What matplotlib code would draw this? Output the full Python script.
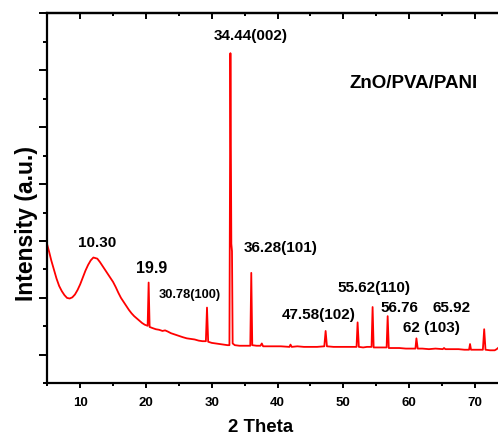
import matplotlib
matplotlib.use("Agg")
import matplotlib.pyplot as plt
from matplotlib.ticker import MultipleLocator, NullFormatter

plt.rcParams['font.family'] = ['Liberation Sans', 'DejaVu Sans']
plt.rcParams['font.weight'] = 'bold'

# XRD pattern (2 theta in degrees, intensity in a.u.)
two_theta = [
    5.0, 5.3, 5.6, 6.0, 6.4, 6.8, 7.2, 7.6, 8.0, 8.4, 8.8, 9.2, 9.6, 10.0,
    10.4, 10.8, 11.2, 11.6, 12.0, 12.3, 12.6, 13.0, 13.4, 13.8, 14.2, 14.6,
    15.0, 15.4, 15.8, 16.2, 16.6, 17.0, 17.4, 17.8, 18.2, 18.6, 19.0, 19.4,
    19.8, 20.25, 20.4, 20.55, 21.0, 21.5, 22.0, 22.5, 22.9, 23.3, 23.8, 24.3,
    25.0, 25.6, 26.2, 26.8, 27.4, 28.0, 28.6, 29.1, 29.27, 29.45, 30.0, 30.6,
    31.2, 31.8, 32.4, 32.68, 32.83, 32.97, 33.07, 33.17, 33.5, 34.2, 35.0,
    35.85, 36.0, 36.15, 36.8, 37.4, 37.6, 37.8, 38.6, 39.5, 40.5, 41.8, 41.96,
    42.15, 43.0, 44.0, 45.0, 46.0, 47.1, 47.3, 47.5, 48.5, 49.5, 50.5, 51.3,
    52.0, 52.16, 52.35, 53.0, 53.6, 54.28, 54.44, 54.6, 55.3, 56.0, 56.57,
    56.73, 56.9, 57.6, 58.5, 59.5, 60.4, 60.95, 61.1, 61.3, 62.0, 63.0, 64.0,
    65.1, 65.3, 65.5, 66.5, 67.5, 68.4, 69.1, 69.25, 69.4, 70.3, 71.2, 71.4,
    71.6, 72.3, 73.0, 73.3, 73.6,
]
intensity = [
    1.93, 1.80, 1.66, 1.50, 1.34, 1.21, 1.12, 1.05, 1.00, 0.99, 1.01, 1.06,
    1.14, 1.24, 1.36, 1.48, 1.58, 1.66, 1.71, 1.70, 1.69, 1.63, 1.56, 1.49,
    1.42, 1.35, 1.28, 1.19, 1.09, 1.00, 0.93, 0.86, 0.79, 0.73, 0.68, 0.64,
    0.60, 0.56, 0.53, 0.51, 1.27, 0.49, 0.47, 0.45, 0.44, 0.42, 0.43, 0.41,
    0.38, 0.36, 0.33, 0.31, 0.29, 0.28, 0.27, 0.25, 0.24, 0.24, 0.83, 0.23,
    0.21, 0.20, 0.19, 0.18, 0.17, 0.17, 5.30, 1.95, 1.82, 0.20, 0.17, 0.16,
    0.16, 0.16, 1.44, 0.17, 0.16, 0.16, 0.20, 0.15, 0.15, 0.15, 0.15, 0.14,
    0.18, 0.14, 0.15, 0.14, 0.14, 0.14, 0.15, 0.42, 0.15, 0.14, 0.14, 0.14,
    0.14, 0.14, 0.57, 0.14, 0.13, 0.14, 0.14, 0.84, 0.13, 0.13, 0.13, 0.13,
    0.68, 0.12, 0.12, 0.12, 0.11, 0.11, 0.11, 0.29, 0.11, 0.11, 0.10, 0.11,
    0.10, 0.12, 0.10, 0.10, 0.10, 0.09, 0.09, 0.19, 0.09, 0.09, 0.09, 0.45,
    0.09, 0.08, 0.08, 0.10, 0.13,
]

peak_labels = ['34.44(002)', '10.30', '19.9', '30.78(100)', '36.28(101)',
               '47.58(102)', '55.62(110)', '56.76', '65.92', '62 (103)']
# where each label sits, in data units
label_pos = [(35.9, 5.60), (12.5, 1.96), (20.9, 1.52), (26.7, 1.05),
             (40.4, 1.87), (46.3, 0.70), (54.6, 1.18), (58.5, 0.82),
             (66.5, 0.82), (63.4, 0.47)]
label_size = [11, 11, 11.5, 9.3, 11, 11, 11, 11, 11, 11]

fig = plt.figure(figsize=(4.98, 4.34), dpi=100)
ax = fig.add_axes([0.095, 0.1168, 0.905, 0.8525])

ax.plot(two_theta, intensity, color='red', lw=1.3)

ax.set_xlim(5, 73.5)
ax.set_ylim(-0.5, 6.0)

# axes styling
for side in ['left', 'bottom', 'top']:
    ax.spines[side].set_linewidth(1.6)
ax.spines['right'].set_visible(False)

ax.xaxis.set_major_locator(MultipleLocator(10))
ax.xaxis.set_minor_locator(MultipleLocator(5))
ax.yaxis.set_major_locator(MultipleLocator(1))
ax.yaxis.set_minor_locator(MultipleLocator(0.5))
ax.yaxis.set_major_formatter(NullFormatter())

ax.tick_params(axis='x', which='major', direction='out', length=3.6, width=1.4,
               labelsize=9.5, pad=6)
ax.tick_params(axis='x', which='minor', direction='out', length=2, width=1.4)
ax.tick_params(axis='y', which='major', direction='out', length=5.8, width=1.4)
ax.tick_params(axis='y', which='minor', direction='out', length=2.9, width=1.4)
for lbl in ax.get_xticklabels():
    lbl.set_fontweight('bold')

# top axis has inward ticks and no labels
top = ax.secondary_xaxis('top')
top.xaxis.set_major_locator(MultipleLocator(10))
top.xaxis.set_minor_locator(MultipleLocator(5))
top.tick_params(which='major', direction='in', length=4.3, width=1.4, labeltop=False)
top.tick_params(which='minor', direction='in', length=2.2, width=1.4)
top.spines['top'].set_linewidth(1.6)

for txt, (px, py), fs in zip(peak_labels, label_pos, label_size):
    ax.text(px, py, txt, ha='center', va='center', fontsize=fs, fontweight='bold')

ax.text(60.7, 4.77, 'ZnO/PVA/PANI', ha='center', va='center', fontsize=13.5,
        fontweight='bold')

fig.text(27 / 498, 1 - 223.5 / 434, 'Intensity (a.u.)', rotation=90,
         ha='center', va='center', fontsize=16.5, fontweight='bold')
fig.text(260.5 / 498, 1 - 427 / 434, '2 Theta', ha='center', va='center',
         fontsize=13.4, fontweight='bold')

fig.savefig('out.png', dpi=100)
